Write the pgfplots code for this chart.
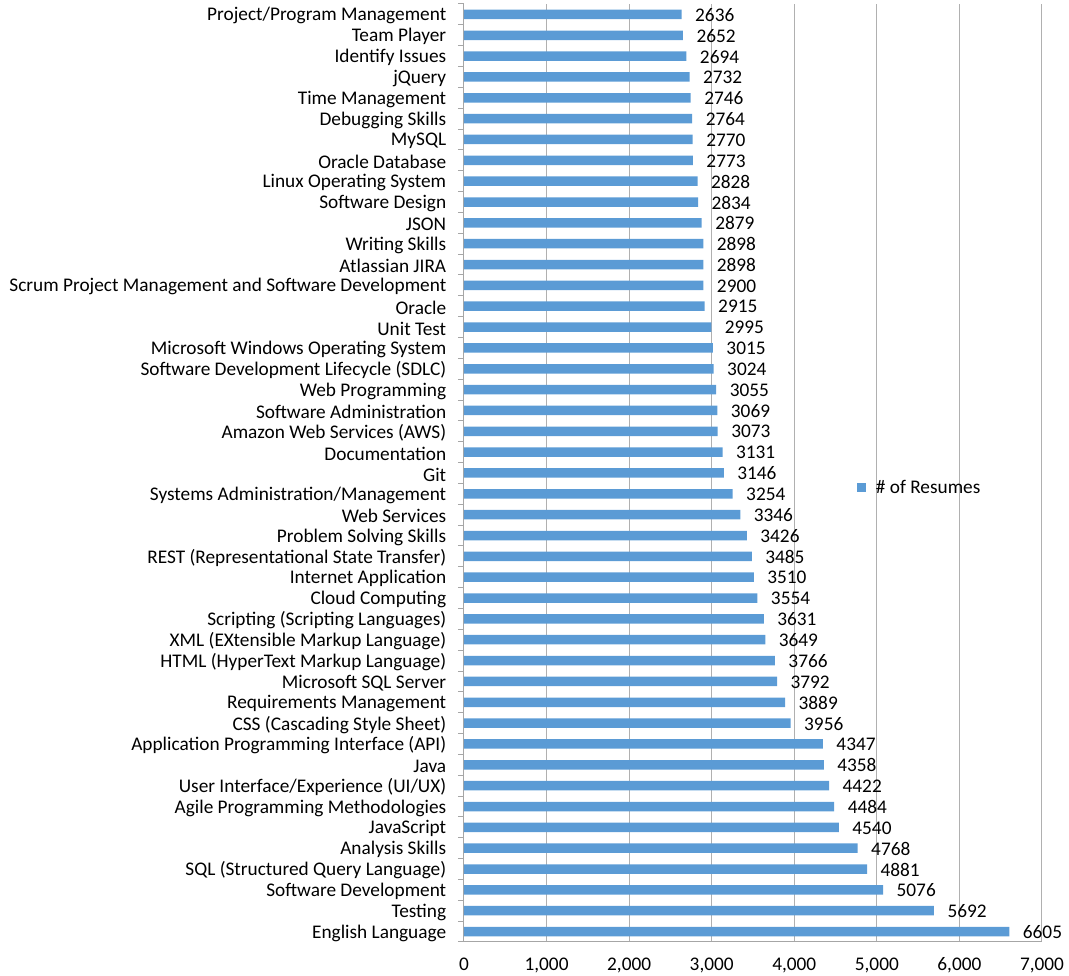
\documentclass[border=0pt]{standalone}
\usepackage{pgfplots}
\pgfplotsset{compat=1.18}
\usepackage{fontspec}
\setmainfont{Carlito}
\definecolor{barblue}{HTML}{5B9BD5}
\definecolor{axgray}{HTML}{A6A6A6}
\definecolor{gridgray}{HTML}{B0B0B0}
\begin{document}
\begin{tikzpicture}
\begin{axis}[
  name=ax,
  scale only axis,
  width=578pt, height=938pt,
  xmin=0, xmax=7000,
  ymin=-0.5, ymax=44.5,
  xbar, bar width=9.5pt,
  axis x line*=bottom, axis y line*=left,
  axis line style={draw=axgray, line width=1pt, -},
  xtick={0,1000,...,7000},
  xmajorgrids, grid style={draw=gridgray, line width=1pt},
  x tick style={draw=none},
  scaled x ticks=false,
  /pgf/number format/1000 sep={,},
  /pgf/number format/assume math mode=true,
  ytick={0,...,44},
  y tick style={draw=none},
  extra y ticks={-0.5,0.5,...,44.5},
  extra y tick labels={},
  extra y tick style={y tick style={draw=axgray, line width=1pt}, major tick length=6pt, tick align=outside, grid=none},
  yticklabels={English Language,Testing,Software Development,SQL (Structured Query Language),Analysis Skills,JavaScript,Agile Programming Methodologies,User Interface/Experience (UI/UX),Java,Application Programming Interface (API),CSS (Cascading Style Sheet),Requirements Management,Microsoft SQL Server,HTML (HyperText Markup Language),XML (EXtensible Markup Language),Scripting (Scripting Languages),Cloud Computing,Internet Application,REST (Representational State Transfer),Problem Solving Skills,Web Services,Systems Administration/Management,Git,Documentation,Amazon Web Services (AWS),Software Administration,Web Programming,Software Development Lifecycle (SDLC),Microsoft Windows Operating System,Unit Test,Oracle,Scrum Project Management and Software Development,Atlassian JIRA,Writing Skills,JSON,Software Design,Linux Operating System,Oracle Database,MySQL,Debugging Skills,Time Management,jQuery,Identify Issues,Team Player,Project/Program Management},
  yticklabel style={font=\fontsize{19.3}{20}\selectfont, xshift=-10pt, yshift=-1.5pt},
  xticklabel style={font=\fontsize{19.3}{20}\selectfont, yshift=-12pt},
  nodes near coords,
  nodes near coords style={font=\fontsize{19.3}{20}\selectfont, anchor=west, xshift=10pt, yshift=-0.5pt},
  point meta=explicit symbolic,
  legend style={at={(axis cs:4720,21.3)}, anchor=west, draw=none, fill=none, font=\fontsize{19.3}{20}\selectfont,
    /tikz/column 1/.style={column sep=8pt}},
  legend image code/.code={\fill[barblue] (0pt,-4.5pt) rectangle (9pt,4.5pt);},
]
\addplot[fill=barblue, draw=none] table[x=v, y=i, meta=v] {
i v
0 6605
1 5692
2 5076
3 4881
4 4768
5 4540
6 4484
7 4422
8 4358
9 4347
10 3956
11 3889
12 3792
13 3766
14 3649
15 3631
16 3554
17 3510
18 3485
19 3426
20 3346
21 3254
22 3146
23 3131
24 3073
25 3069
26 3055
27 3024
28 3015
29 2995
30 2915
31 2900
32 2898
33 2898
34 2879
35 2834
36 2828
37 2773
38 2770
39 2764
40 2746
41 2732
42 2694
43 2652
44 2636
};
\addlegendentry{\# of Resumes}
\end{axis}
\pgfresetboundingbox
\path ([shift={(-464pt,-34pt)}]ax.south west) rectangle ([shift={(27pt,4pt)}]ax.north east);
\end{tikzpicture}
\end{document}
